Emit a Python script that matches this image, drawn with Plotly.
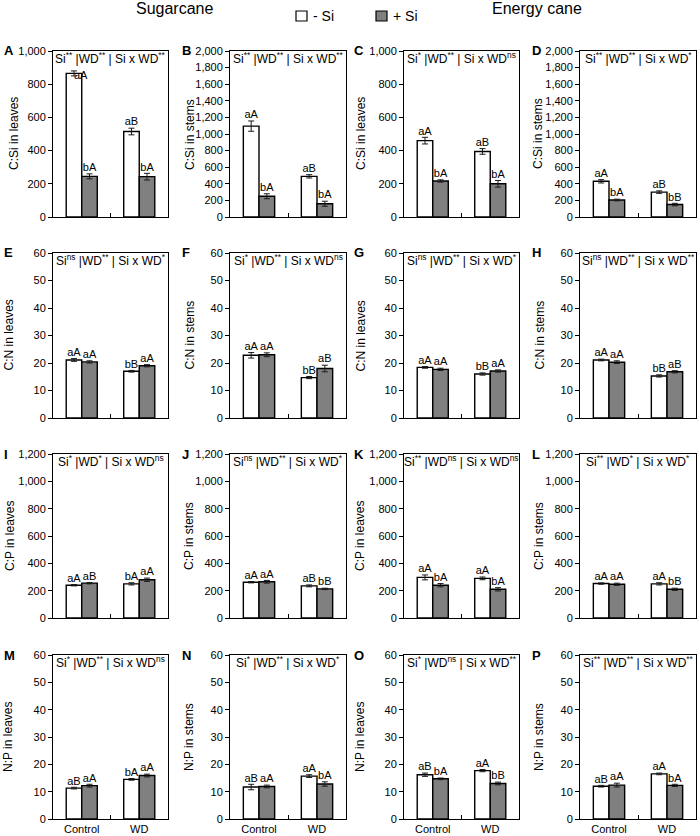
import plotly.graph_objects as go
from plotly.subplots import make_subplots

# ---------------- data ----------------
groups = ["Control", "WD"]
treatments = ["- Si", "+ Si"]
panel_ids = list("ABCDEFGHIJKLMNOP")

y_titles = ["C:Si in leaves", "C:Si in stems", "C:Si in leaves", "C:Si in stems",
            "C:N in leaves", "C:N in stems", "C:N in leaves", "C:N in stems",
            "C:P in leaves", "C:P in stems", "C:P in leaves", "C:P in stems",
            "N:P in leaves", "N:P in stems", "N:P in leaves", "N:P in stems"]

sig_texts = [
    "Si<sup>**</sup> |WD<sup>**</sup> | Si x WD<sup>**</sup>",
    "Si<sup>**</sup> |WD<sup>**</sup> | Si x WD<sup>**</sup>",
    "Si<sup>*</sup> |WD<sup>**</sup> | Si x WD<sup>ns</sup>",
    "Si<sup>**</sup> |WD<sup>**</sup> | Si x WD<sup>*</sup>",
    "Si<sup>ns</sup> |WD<sup>**</sup> | Si x WD<sup>*</sup>",
    "Si<sup>*</sup> |WD<sup>**</sup> | Si x WD<sup>ns</sup>",
    "Si<sup>ns</sup> |WD<sup>**</sup> | Si x WD<sup>*</sup>",
    "Si<sup>ns</sup> |WD<sup>**</sup> | Si x WD<sup>**</sup>",
    "Si<sup>*</sup> |WD<sup>*</sup> | Si x WD<sup>ns</sup>",
    "Si<sup>ns</sup> |WD<sup>**</sup> | Si x WD<sup>*</sup>",
    "Si<sup>**</sup> |WD<sup>ns</sup> | Si x WD<sup>ns</sup>",
    "Si<sup>**</sup> |WD<sup>*</sup> | Si x WD<sup>*</sup>",
    "Si<sup>*</sup> |WD<sup>**</sup> | Si x WD<sup>ns</sup>",
    "Si<sup>*</sup> |WD<sup>**</sup> | Si x WD<sup>*</sup>",
    "Si<sup>*</sup> |WD<sup>ns</sup> | Si x WD<sup>**</sup>",
    "Si<sup>**</sup> |WD<sup>**</sup> | Si x WD<sup>**</sup>",
]

# means [Control, WD], standard errors, and letters for -Si and +Si
A_minus = [865, 515];   A_plus = [245, 243];   A_minus_se = [15, 20];  A_plus_se = [15, 20]
A_minus_lbl = ["aA", "aB"]; A_plus_lbl = ["bA", "bA"]
B_minus = [1095, 490];  B_plus = [250, 160];   B_minus_se = [62, 20];  B_plus_se = [30, 30]
B_minus_lbl = ["aA", "aB"]; B_plus_lbl = ["bA", "bA"]
C_minus = [460, 395];   C_plus = [217, 200];   C_minus_se = [20, 17];  C_plus_se = [7, 20]
C_minus_lbl = ["aA", "aB"]; C_plus_lbl = ["bA", "bA"]
D_minus = [430, 300];   D_plus = [205, 150];   D_minus_se = [20, 15];  D_plus_se = [10, 15]
D_minus_lbl = ["aA", "aB"]; D_plus_lbl = ["bA", "bB"]

E_minus = [21.1, 17.0]; E_plus = [20.4, 19.0]; E_minus_se = [0.5, 0.3]; E_plus_se = [0.4, 0.4]
E_minus_lbl = ["aA", "bB"]; E_plus_lbl = ["aA", "aA"]
F_minus = [22.8, 14.7]; F_plus = [23.0, 18.0]; F_minus_se = [1.0, 0.4]; F_plus_se = [0.7, 1.2]
F_minus_lbl = ["aA", "bB"]; F_plus_lbl = ["aA", "aB"]
G_minus = [18.4, 16.0]; G_plus = [17.7, 17.1]; G_minus_se = [0.3, 0.4]; G_plus_se = [0.4, 0.4]
G_minus_lbl = ["aA", "bB"]; G_plus_lbl = ["aA", "aA"]
H_minus = [21.1, 15.3]; H_plus = [20.3, 16.8]; H_minus_se = [0.3, 0.4]; H_plus_se = [0.5, 0.4]
H_minus_lbl = ["aA", "bB"]; H_plus_lbl = ["aA", "aB"]

I_minus = [240, 250];   I_plus = [255, 280];   I_minus_se = [5, 8];    I_plus_se = [5, 12]
I_minus_lbl = ["aA", "bA"]; I_plus_lbl = ["aB", "aA"]
J_minus = [262, 235];   J_plus = [265, 213];   J_minus_se = [5, 7];    J_plus_se = [10, 5]
J_minus_lbl = ["aA", "aB"]; J_plus_lbl = ["aA", "bB"]
K_minus = [297, 290];   K_plus = [240, 210];   K_minus_se = [18, 10];  K_plus_se = [12, 12]
K_minus_lbl = ["aA", "aA"]; K_plus_lbl = ["bA", "bA"]
L_minus = [252, 250];   L_plus = [247, 210];   L_minus_se = [5, 8];    L_plus_se = [8, 8]
L_minus_lbl = ["aA", "aA"]; L_plus_lbl = ["aA", "bB"]

M_minus = [11.3, 14.5]; M_plus = [12.2, 15.9]; M_minus_se = [0.3, 0.3]; M_plus_se = [0.5, 0.5]
M_minus_lbl = ["aB", "bA"]; M_plus_lbl = ["aA", "aA"]
N_minus = [11.7, 15.7]; N_plus = [11.9, 12.8]; N_minus_se = [1.0, 0.5]; N_plus_se = [0.5, 0.8]
N_minus_lbl = ["aB", "aA"]; N_plus_lbl = ["aA", "bA"]
O_minus = [16.2, 17.7]; O_plus = [14.7, 13.0]; O_minus_se = [0.6, 0.4]; O_plus_se = [0.3, 0.5]
O_minus_lbl = ["aB", "aA"]; O_plus_lbl = ["bA", "bB"]
P_minus = [12.0, 16.5]; P_plus = [12.4, 12.3]; P_minus_se = [0.3, 0.3]; P_plus_se = [0.7, 0.4]
P_minus_lbl = ["aB", "aA"]; P_plus_lbl = ["aA", "bA"]

panels = [
    (A_minus, A_plus, A_minus_se, A_plus_se, A_minus_lbl, A_plus_lbl),
    (B_minus, B_plus, B_minus_se, B_plus_se, B_minus_lbl, B_plus_lbl),
    (C_minus, C_plus, C_minus_se, C_plus_se, C_minus_lbl, C_plus_lbl),
    (D_minus, D_plus, D_minus_se, D_plus_se, D_minus_lbl, D_plus_lbl),
    (E_minus, E_plus, E_minus_se, E_plus_se, E_minus_lbl, E_plus_lbl),
    (F_minus, F_plus, F_minus_se, F_plus_se, F_minus_lbl, F_plus_lbl),
    (G_minus, G_plus, G_minus_se, G_plus_se, G_minus_lbl, G_plus_lbl),
    (H_minus, H_plus, H_minus_se, H_plus_se, H_minus_lbl, H_plus_lbl),
    (I_minus, I_plus, I_minus_se, I_plus_se, I_minus_lbl, I_plus_lbl),
    (J_minus, J_plus, J_minus_se, J_plus_se, J_minus_lbl, J_plus_lbl),
    (K_minus, K_plus, K_minus_se, K_plus_se, K_minus_lbl, K_plus_lbl),
    (L_minus, L_plus, L_minus_se, L_plus_se, L_minus_lbl, L_plus_lbl),
    (M_minus, M_plus, M_minus_se, M_plus_se, M_minus_lbl, M_plus_lbl),
    (N_minus, N_plus, N_minus_se, N_plus_se, N_minus_lbl, N_plus_lbl),
    (O_minus, O_plus, O_minus_se, O_plus_se, O_minus_lbl, O_plus_lbl),
    (P_minus, P_plus, P_minus_se, P_plus_se, P_minus_lbl, P_plus_lbl),
]

# axis scales per row
row_ymax = [None, 60, 1200, 60]
col_ymax_row1 = [1000, 2000, 1000, 2000]
row_dtick = [200, 10, 200, 10]

# ---------------- layout constants ----------------
W, H = 700, 836
FONT = "Liberation Sans, Arial, sans-serif"
col_px = [(53, 168), (230, 346), (404, 519), (580, 696)]
row_px = [(51, 217), (253, 418), (454, 618), (655, 819)]
ytitle_x = [[14, 190, 361, 538], [8, 189, 360, 539], [10, 189, 360, 539], [8, 189, 360, 539]]
letter_x = [2, 180, 352, 530]

BAR_W = 0.27
WHITE = "#ffffff"
GRAY = "#808080"

fig = make_subplots(rows=4, cols=4)

annotations = []
for k in range(16):
    r, c = divmod(k, 4)
    means_m, means_p, se_m, se_p, lbl_m, lbl_p = panels[k]
    xs = list(range(len(groups)))
    x_m = [x - BAR_W / 2 for x in xs]
    x_p = [x + BAR_W / 2 for x in xs]

    fig.add_trace(go.Bar(
        x=xs, y=means_m, width=BAR_W, offset=-BAR_W, name=treatments[0],
        marker=dict(color=WHITE, line=dict(color="black", width=1.4)),
        error_y=dict(type="data", array=se_m, color="#1a1a1a", thickness=1, width=3),
        showlegend=False), row=r + 1, col=c + 1)
    fig.add_trace(go.Bar(
        x=xs, y=means_p, width=BAR_W, offset=0, name=treatments[1],
        marker=dict(color=GRAY, line=dict(color="black", width=1.4)),
        error_y=dict(type="data", array=se_p, color="#1a1a1a", thickness=1, width=3),
        showlegend=False), row=r + 1, col=c + 1)

    # letter labels; the tall Control bar in panel A has its label set to the right
    positions = ["top center"] * 4
    if k == 0:
        positions[0] = "bottom right"
    fig.add_trace(go.Scatter(
        x=x_m + x_p,
        y=[m + s for m, s in zip(means_m, se_m)] + [m + s for m, s in zip(means_p, se_p)],
        text=lbl_m + lbl_p, mode="text", textposition=positions,
        textfont=dict(size=11, color="black", family=FONT),
        showlegend=False, hoverinfo="skip", cliponaxis=False), row=r + 1, col=c + 1)

    ymax = col_ymax_row1[c] if r == 0 else row_ymax[r]
    x0, x1 = col_px[c]
    y0, y1 = row_px[r]
    xdom = [x0 / W, x1 / W]
    ydom = [1 - y1 / H, 1 - y0 / H]
    sfx = "" if k == 0 else str(k + 1)

    fig.layout["xaxis" + sfx].update(
        domain=xdom, range=[-0.5, 1.5], showline=True, linecolor="black", linewidth=1,
        mirror=True, ticks="", tickmode="array", tickvals=xs, ticktext=groups,
        showticklabels=(r == 3), tickfont=dict(size=11, color="black", family=FONT),
        showgrid=False, zeroline=False, automargin=False,
        minor=dict(tickmode="array", tickvals=[0.5], ticks="inside", ticklen=4,
                   tickcolor="black", tickwidth=1, showgrid=False))
    fig.layout["yaxis" + sfx].update(
        domain=ydom, range=[0, ymax], tick0=0, dtick=row_dtick[r], tickformat=",",
        showline=True, linecolor="black", linewidth=1, mirror=True,
        ticks="outside", ticklen=4, tickcolor="black", tickwidth=1,
        tickfont=dict(size=11, color="black", family=FONT),
        showgrid=False, zeroline=False, automargin=False)

    # significance text inside the top of the box
    annotations.append(dict(
        xref=f"x{sfx} domain", yref=f"y{sfx} domain", x=0.5, y=1, yshift=2,
        xanchor="center", yanchor="top", showarrow=False, text=sig_texts[k],
        borderpad=0, font=dict(size=12, color="black", family=FONT)))
    # y-axis title
    annotations.append(dict(
        xref="paper", yref="paper", x=ytitle_x[r][c] / W, y=(ydom[0] + ydom[1]) / 2,
        xanchor="center", yanchor="middle", showarrow=False, textangle=-90,
        text=y_titles[k], font=dict(size=12, color="black", family=FONT)))
    # panel letter
    annotations.append(dict(
        xref="paper", yref="paper", x=letter_x[c] / W, y=ydom[1],
        xanchor="left", yanchor="middle", showarrow=False,
        text=f"<b>{panel_ids[k]}</b>", font=dict(size=13, color="black", family=FONT)))

# headers
annotations.append(dict(xref="paper", yref="paper", x=174 / W, y=1 - 9 / H,
                        xanchor="center", yanchor="middle", showarrow=False,
                        text="Sugarcane", font=dict(size=16, color="black", family=FONT)))
annotations.append(dict(xref="paper", yref="paper", x=537 / W, y=1 - 9 / H,
                        xanchor="center", yanchor="middle", showarrow=False,
                        text="Energy cane", font=dict(size=16, color="black", family=FONT)))
# legend text
annotations.append(dict(xref="paper", yref="paper", x=311 / W, y=1 - 16 / H,
                        xanchor="left", yanchor="middle", showarrow=False,
                        text=treatments[0], font=dict(size=14, color="black", family=FONT)))
annotations.append(dict(xref="paper", yref="paper", x=391 / W, y=1 - 16 / H,
                        xanchor="left", yanchor="middle", showarrow=False,
                        text=treatments[1], font=dict(size=14, color="black", family=FONT)))

shapes = [
    dict(type="rect", xref="paper", yref="paper", x0=296 / W, x1=307 / W,
         y0=1 - 21 / H, y1=1 - 11 / H, fillcolor=WHITE, line=dict(color="black", width=1.2)),
    dict(type="rect", xref="paper", yref="paper", x0=376 / W, x1=387 / W,
         y0=1 - 21 / H, y1=1 - 11 / H, fillcolor=GRAY, line=dict(color="black", width=1.2)),
]

fig.update_layout(
    width=W, height=H, margin=dict(l=0, r=0, t=0, b=0),
    paper_bgcolor="white", plot_bgcolor="white",
    font=dict(family=FONT, color="black"),
    showlegend=False, annotations=annotations, shapes=shapes,
)

fig.write_html(
    "out.html",
    config={"displayModeBar": False},
    post_script="document.body.style.margin='0';document.body.style.padding='0';"
                "document.body.style.overflow='hidden';",
)
